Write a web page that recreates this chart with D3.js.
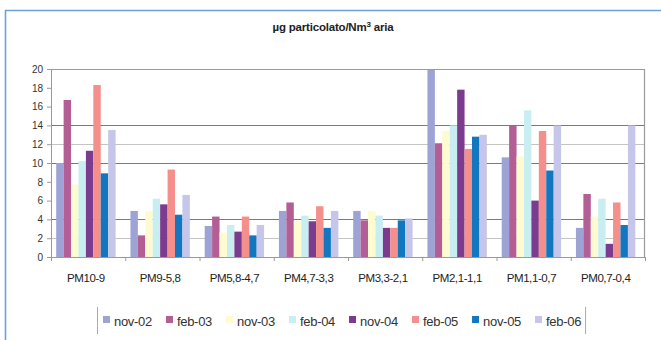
<!DOCTYPE html>
<html>
<head>
<meta charset="utf-8">
<script src="https://cdn.jsdelivr.net/npm/d3@7"></script>
<style>
  body { margin: 0; background: #fff; }
  text { font-family: "Liberation Sans", Arial, sans-serif; }
</style>
</head>
<body>
<script>
// data
const categories = ["PM10-9", "PM9-5,8", "PM5,8-4,7", "PM4,7-3,3", "PM3,3-2,1", "PM2,1-1,1", "PM1,1-0,7", "PM0,7-0,4"];
const series = ["nov-02", "feb-03", "nov-03", "feb-04", "nov-04", "feb-05", "nov-05", "feb-06"];
const nov02 = [10.0, 4.9, 3.3, 4.9, 4.9, 19.9, 10.6, 3.1];
const feb03 = [16.7, 2.3, 4.3, 5.8, 3.9, 12.1, 14.0, 6.7];
const nov03 = [7.7, 4.9, 2.6, 3.8, 4.9, 13.4, 10.7, 4.3];
const feb04 = [10.2, 6.2, 3.4, 4.4, 4.4, 14.0, 15.6, 6.2];
const nov04 = [11.3, 5.6, 2.7, 3.8, 3.1, 17.8, 6.0, 1.4];
const feb05 = [18.3, 9.3, 4.3, 5.4, 3.1, 11.5, 13.4, 5.8];
const nov05 = [8.9, 4.5, 2.3, 3.1, 3.9, 12.8, 9.2, 3.4];
const feb06 = [13.5, 6.6, 3.4, 4.9, 4.1, 13.0, 14.0, 14.0];
const values = [nov02, feb03, nov03, feb04, nov04, feb05, nov05, feb06];
const yTicks = [0, 2, 4, 6, 8, 10, 12, 14, 16, 18, 20];
const gridDark = [14, 10, 4];
const gridLight = [12, 2];

const colors = ["#9ea3d6", "#b35e94", "#fdfbcf", "#c9eef2", "#7b3b8f", "#f58f8c", "#1277bf", "#c6c6ea"];

const W = 661, H = 340;
const margin = {top: 69, right: 16, bottom: 83, left: 51},
    width = W - margin.left - margin.right,
    height = H - margin.top - margin.bottom;

const root = d3.select("body")
    .append("svg")
    .attr("width", W)
    .attr("height", H);

// outer frame (top and left edges)
root.append("path")
    .attr("d", `M5.5,${H} V10.5 H${W}`)
    .attr("fill", "none")
    .attr("stroke", "#6aa3d8")
    .attr("stroke-width", 1.6);

// title
const title = root.append("text")
    .attr("x", 333)
    .attr("y", 31)
    .attr("text-anchor", "middle")
    .attr("font-size", 11.5)
    .attr("font-weight", "bold")
    .attr("letter-spacing", -0.2)
    .attr("fill", "#222");
title.append("tspan").text("µg particolato/Nm");
title.append("tspan").attr("font-size", 8).attr("dy", -4).text("3");
title.append("tspan").attr("dy", 4).text(" aria");

const svg = root.append("g")
    .attr("transform", `translate(${margin.left}, ${margin.top})`);

const y = d3.scaleLinear().domain([0, 20]).range([height, 0]);

const x0 = d3.scaleBand()
    .domain(categories)
    .range([0, width])
    .paddingInner(0.2)
    .paddingOuter(0.1)
    .align(0.35);

const x1 = d3.scaleBand()
    .domain(series)
    .range([0, x0.bandwidth()]);

// gridlines
svg.append("g")
    .selectAll("line")
    .data(gridLight)
    .join("line")
    .attr("x1", 0).attr("x2", width)
    .attr("y1", d => Math.round(y(d)) + 0.5).attr("y2", d => Math.round(y(d)) + 0.5)
    .attr("stroke", "#c4c4c4");
svg.append("g")
    .selectAll("line")
    .data(gridDark)
    .join("line")
    .attr("x1", 0).attr("x2", width)
    .attr("y1", d => Math.round(y(d)) + 0.5).attr("y2", d => Math.round(y(d)) + 0.5)
    .attr("stroke", "#7a7a7a")
    .attr("stroke-width", 1.2);

// top and right frame of the plot
svg.append("path")
    .attr("d", `M0,${y(20) + 0.5} H${width - 0.5} V${height}`)
    .attr("fill", "none")
    .attr("stroke", "#9a9a9a")
    .attr("stroke-width", 1.2);

// bars
const groups = svg.append("g")
    .selectAll("g")
    .data(categories)
    .join("g")
    .attr("transform", d => `translate(${x0(d)},0)`);

groups.selectAll("rect")
    .data((c, i) => series.map((s, j) => ({s: s, v: values[j][i], j: j})))
    .join("rect")
    .attr("x", d => x1(d.s))
    .attr("y", d => y(d.v))
    .attr("width", x1.bandwidth())
    .attr("height", d => height - y(d.v))
    .attr("fill", d => colors[d.j]);

// Y axis
const yAxis = svg.append("g")
    .call(d3.axisLeft(y).tickValues(yTicks).tickSize(4).tickPadding(4));
yAxis.select(".domain").attr("stroke", "#9a9a9a");
yAxis.selectAll(".tick line").attr("stroke", "#9a9a9a");
yAxis.selectAll("text")
    .attr("font-size", 10)
    .attr("fill", "#333")
    .attr("font-family", "Liberation Sans, Arial, sans-serif");

// X axis
const xAxis = svg.append("g")
    .attr("transform", `translate(0, ${height})`)
    .call(d3.axisBottom(x0).tickSize(0).tickPadding(17));
xAxis.select(".domain").attr("stroke", "#9a9a9a");
xAxis.selectAll("text")
    .attr("font-size", 11.5)
    .attr("fill", "#222")
    .attr("letter-spacing", -0.4)
    .attr("font-family", "Liberation Sans, Arial, sans-serif");

// tick marks between categories
svg.append("g")
    .selectAll("line")
    .data(d3.range(categories.length + 1))
    .join("line")
    .attr("x1", i => i * x0.step() + 0.5)
    .attr("x2", i => i * x0.step() + 0.5)
    .attr("y1", height)
    .attr("y2", height + 4)
    .attr("stroke", "#9a9a9a");

// legend
const legend = root.append("g");
let lx = 103;
const ly = 326;
series.forEach((s, i) => {
    legend.append("rect")
        .attr("x", lx).attr("y", ly - 10)
        .attr("width", 7).attr("height", 7)
        .attr("fill", colors[i]);
    const t = legend.append("text")
        .attr("x", lx + 11).attr("y", ly)
        .attr("font-size", 13)
        .attr("letter-spacing", -0.3)
        .attr("fill", "#333")
        .text(s);
    lx += 11 + t.node().getComputedTextLength() + 14;
});
legend.append("line")
    .attr("x1", 97.5).attr("x2", 97.5).attr("y1", 307).attr("y2", 334)
    .attr("stroke", "#aaa");
legend.append("line")
    .attr("x1", lx - 9.5).attr("x2", lx - 9.5).attr("y1", 307).attr("y2", 334)
    .attr("stroke", "#aaa");
</script>
</body>
</html>
